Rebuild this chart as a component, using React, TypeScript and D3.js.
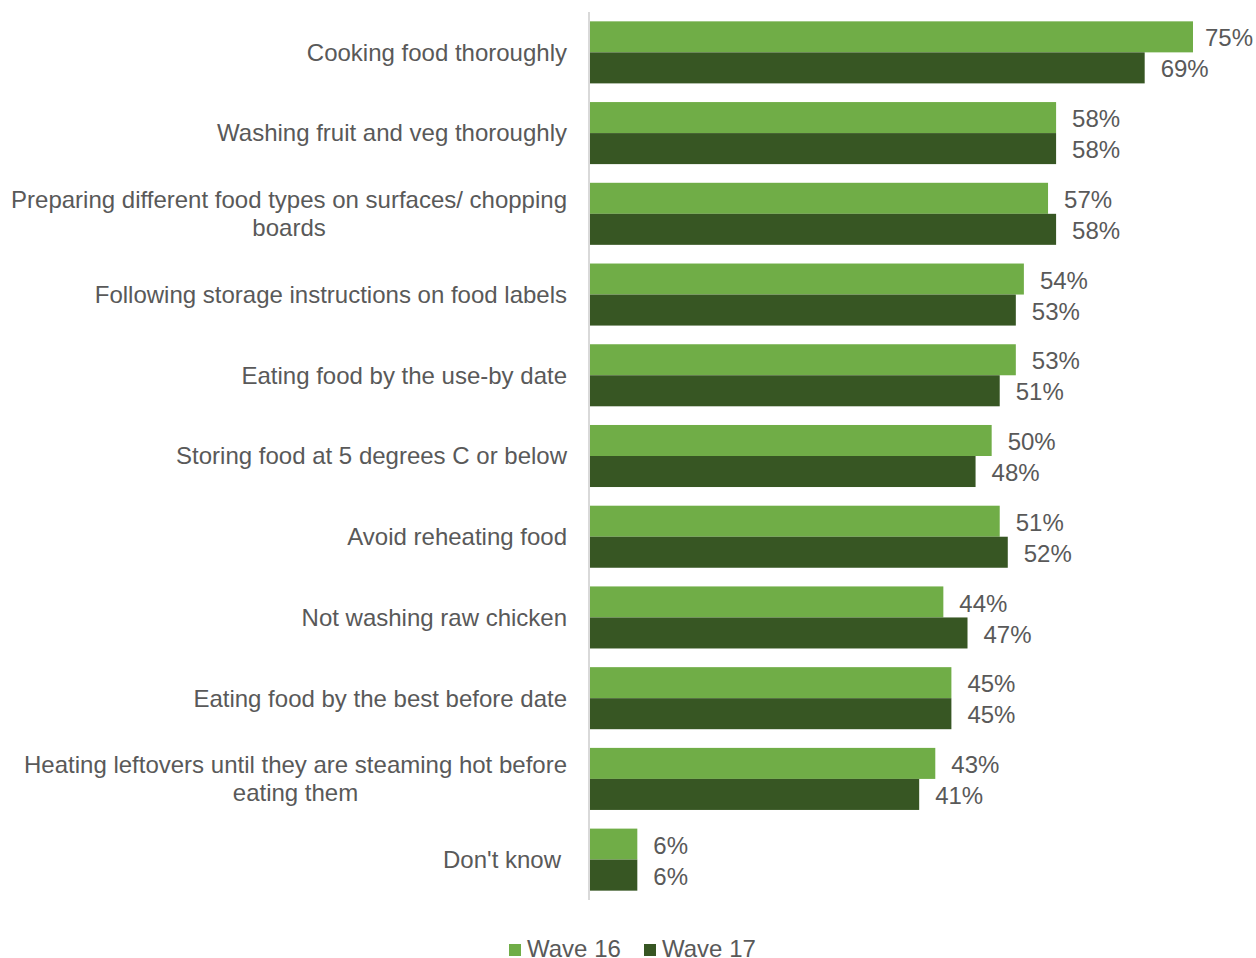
import React from "react";
import * as d3 from "d3";

const categories: string[][] = [
  ["Cooking food thoroughly"],
  ["Washing fruit and veg thoroughly"],
  ["Preparing different food types on surfaces/ chopping", "boards"],
  ["Following storage instructions on food labels"],
  ["Eating food by the use-by date"],
  ["Storing food at 5 degrees C or below"],
  ["Avoid reheating food"],
  ["Not washing raw chicken"],
  ["Eating food by the best before date"],
  ["Heating leftovers until they are steaming hot before", "eating them"],
  ["Don't know"],
];
const wave16: number[] = [75, 58, 57, 54, 53, 50, 51, 44, 45, 43, 6];
const wave17: number[] = [69, 58, 58, 53, 51, 48, 52, 47, 45, 41, 6];
const seriesNames = ["Wave 16", "Wave 17"];
const colors = ["#70AD47", "#375623"];

const FONT = "'Liberation Sans', Arial, sans-serif";
const FS = 24;

function measure(s: string): number {
  const c = document.createElement("canvas").getContext("2d");
  if (!c) return s.length * FS * 0.5;
  c.font = `${FS}px 'Liberation Sans'`;
  return c.measureText(s).width;
}

export default function App() {
  const W = 1256, H = 958;
  const x0 = 589;
  const labelRight = 567;
  const x = d3.scaleLinear().domain([0, 75]).range([x0, 1193]);
  const y = d3.scaleBand<number>().domain(d3.range(categories.length)).range([12, 900]).paddingInner(0.2314).paddingOuter(0.1157);
  const inner = d3.scaleBand<number>().domain([0, 1]).range([0, y.bandwidth()]);
  const txt = "#595959";
  const series = [wave16, wave17];
  return (
    <svg width={W} height={H} style={{ position: "absolute", left: 0, top: 0, fontFamily: FONT }}>
      {series.map((vals, s) =>
        vals.map((v, i) => {
          const label = `${v}%`;
          const lx = Math.min(x(v) + 16, W - 3 - measure(label));
          return (
            <g key={`${s}-${i}`}>
              <rect x={x0} y={(y(i) as number) + (inner(s) as number)} width={x(v) - x0} height={inner.bandwidth()} fill={colors[s]} />
              <text x={lx} y={(y(i) as number) + (inner(s) as number) + inner.bandwidth() / 2} dy="0.4em" fontSize={FS} fill={txt}>
                {label}
              </text>
            </g>
          );
        })
      )}
      <line x1={x0} x2={x0} y1={12} y2={900} stroke="#D9D9D9" strokeWidth={2} />
      {categories.map((lines, i) => {
        const cy = (y(i) as number) + y.bandwidth() / 2;
        const lh = 28;
        const w0 = measure(lines[0]);
        const right = lines[0] === "Don't know" ? labelRight - 6 : labelRight;
        const cx = right - w0 / 2;
        return (
          <text key={i} textAnchor="middle" fontSize={FS} fill={txt}>
            {lines.map((l, j) => (
              <tspan key={j} x={cx} y={cy + (j - (lines.length - 1) / 2) * lh} dy="0.35em">
                {l}
              </tspan>
            ))}
          </text>
        );
      })}
      {seriesNames.map((n, s) => (
        <g key={n} transform={`translate(${509 + s * 135},950)`}>
          <rect x={0} y={-6} width={12} height={12} fill={colors[s]} />
          <text x={18} y={0} dy="0.3em" fontSize={FS} fill={txt}>{n}</text>
        </g>
      ))}
    </svg>
  );
}
